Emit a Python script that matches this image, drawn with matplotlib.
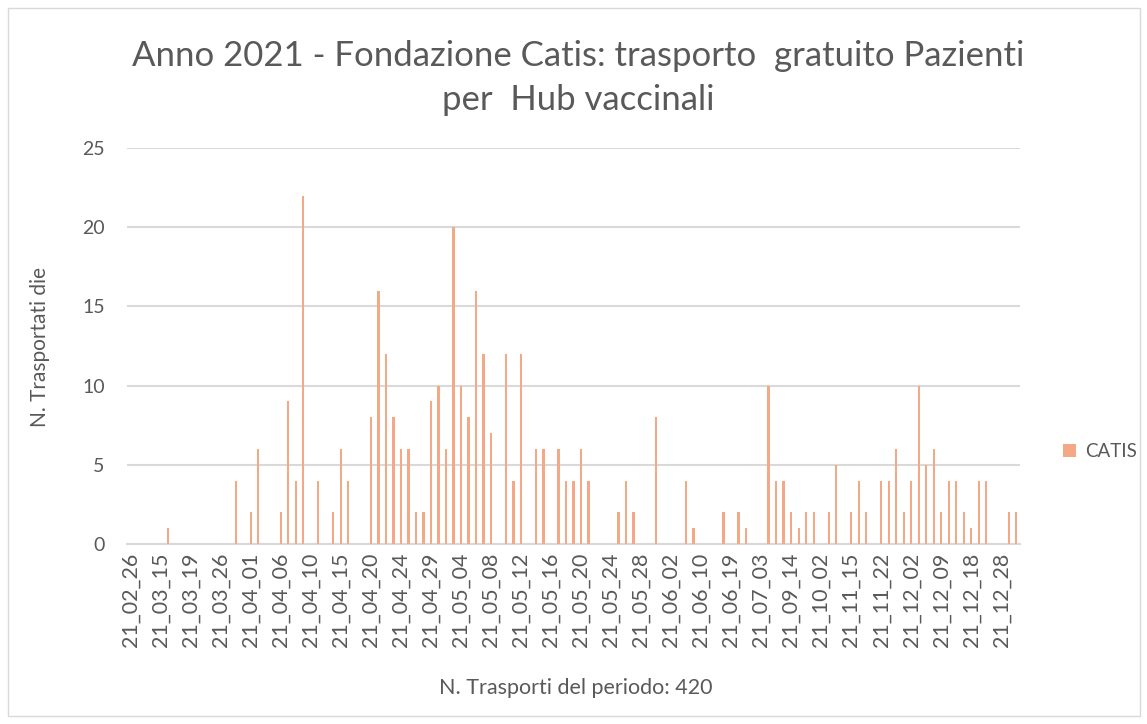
import matplotlib
matplotlib.use("Agg")
import matplotlib.pyplot as plt
from matplotlib.patches import Rectangle
import numpy as np

# trasporti per giorno (una categoria per giorno di servizio)
values = [
    0, 0, 0, 0, 0, 1, 0, 0, 0, 0,
    0, 0, 0, 0, 4, 0, 2, 6, 0, 0,
    2, 9, 4, 22, 0, 4, 0, 2, 6, 4,
    0, 0, 8, 16, 12, 8, 6, 6, 2, 2,
    9, 10, 6, 20, 10, 8, 16, 12, 7, 0,
    12, 4, 12, 0, 6, 6, 0, 6, 4, 4,
    6, 4, 0, 0, 0, 2, 4, 2, 0, 0,
    8, 0, 0, 0, 4, 1, 0, 0, 0, 2,
    0, 2, 1, 0, 0, 10, 4, 4, 2, 1,
    2, 2, 0, 2, 5, 0, 2, 4, 2, 0,
    4, 4, 6, 2, 4, 10, 5, 6, 2, 4,
    4, 2, 1, 4, 4, 0, 0, 2, 2,
]

# etichette visibili (una ogni 4 categorie)
tick_labels = [
    "21_02_26", "21_03_15", "21_03_19", "21_03_26", "21_04_01", "21_04_06",
    "21_04_10", "21_04_15", "21_04_20", "21_04_24", "21_04_29", "21_05_04",
    "21_05_08", "21_05_12", "21_05_16", "21_05_20", "21_05_24", "21_05_28",
    "21_06_02", "21_06_10", "21_06_19", "21_07_03", "21_09_14", "21_10_02",
    "21_11_15", "21_11_22", "21_12_02", "21_12_09", "21_12_18", "21_12_28",
]
tick_step = 4
series_name = "CATIS"

plt.rcParams['font.family'] = ['Lato', 'DejaVu Sans']
grey = '#595959'
bar_color = '#F4A886'

fig = plt.figure(figsize=(11.47, 7.24), dpi=100)
ax = fig.add_axes([127 / 1147, 1 - 544 / 724, 893 / 1147, 396 / 724])

x = np.arange(len(values))
ax.bar(x, values, width=0.3, color=bar_color, label=series_name, zorder=3)

ax.set_xlim(-0.5, len(values) - 0.5)
ax.set_ylim(0, 25)
ax.set_yticks(range(0, 26, 5))
ax.set_xticks(x[::tick_step])
ax.set_xticklabels(tick_labels, rotation=90)

ax.grid(axis='y', color='#d9d9d9', linewidth=1.5, zorder=0)
for s in ['top', 'right', 'left']:
    ax.spines[s].set_visible(False)
ax.spines['bottom'].set_color('#d9d9d9')
ax.spines['bottom'].set_linewidth(1.5)
ax.tick_params(axis='y', length=0, pad=16, labelsize=14, labelcolor=grey)
ax.tick_params(axis='x', length=0, pad=6, labelsize=15.5, labelcolor=grey)

fig.text(0.504, 1 - 56 / 724, "Anno 2021 - Fondazione Catis: trasporto  gratuito Pazienti",
         ha='center', va='center', fontsize=25, color=grey)
fig.text(0.504, 1 - 100 / 724, "per  Hub vaccinali",
         ha='center', va='center', fontsize=25, color=grey)
fig.text(40 / 1147, 1 - 347 / 724, "N. Trasportati die", rotation=90,
         ha='center', va='center', fontsize=15, color=grey)
fig.text(576 / 1147, 1 - 688 / 724, "N. Trasporti del periodo: 420",
         ha='center', va='center', fontsize=15.5, color=grey)

fig.legend(loc='center left', bbox_to_anchor=(1046 / 1147, 1 - 452 / 724),
           frameon=False, fontsize=13.5, labelcolor=grey,
           handlelength=0.7, handleheight=0.7, handletextpad=0.5)

fig.patches.append(Rectangle((8 / 1147, 8 / 724), 1132 / 1147, 708 / 724,
                             transform=fig.transFigure, fill=False,
                             edgecolor='#d9d9d9', linewidth=1))

fig.savefig("out.png", dpi=100)
